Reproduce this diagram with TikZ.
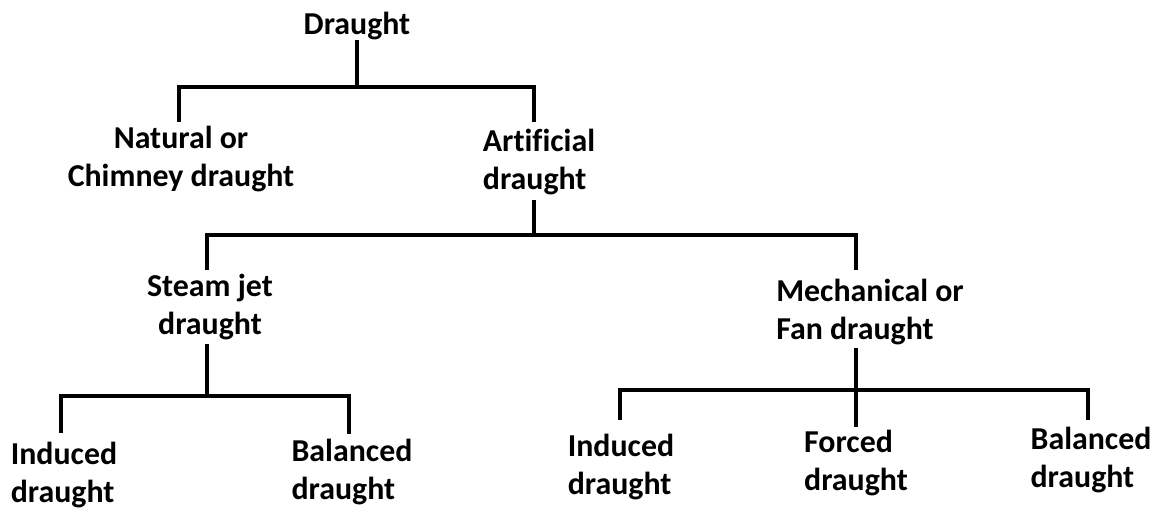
\documentclass[tikz,border=0pt]{standalone}
\usepackage{fontspec}
\setmainfont{Carlito}[Ligatures=CommonOff]
\begin{document}
\begin{tikzpicture}[x=1bp,y=-1bp,
  lbl/.style={inner sep=0pt,font=\bfseries\fontsize{32}{38}\selectfont,align=left},
  lblc/.style={lbl,align=center},
  conn/.style={line width=4bp,line join=miter,line cap=rect}]
\useasboundingbox[fill=white] (0,0) rectangle (1160,511);
% nodes
\node[lbl] (d) at (357,26) {Draught};
\node[lblc] (nat) at (181,159) {Natural or\\Chimney draught};
\node[lbl] (art) at (539,162) {Artificial\\draught};
\node[lblc] (stm) at (210,307) {Steam jet\\draught};
\node[lbl] (mec) at (870,312) {Mechanical or\\Fan draught};
\node[lbl] (ind1) at (64,475) {Induced\\draught};
\node[lbl] (bal1) at (352,472) {Balanced\\draught};
\node[lbl] (ind2) at (621,467) {Induced\\draught};
\node[lbl] (frc) at (856,463) {Forced\\draught};
\node[lbl] (bal2) at (1091,460) {Balanced\\draught};
% connector points
\coordinate (d-b) at (357,42);
\coordinate (j1) at (357,87);
\coordinate (j1l) at (179,87);
\coordinate (j1r) at (534,87);
\coordinate (nat-t) at (179,120);
\coordinate (art-t) at (534,120);
\coordinate (art-b) at (534,202);
\coordinate (j2) at (534,235);
\coordinate (j2l) at (207,235);
\coordinate (j2r) at (856,235);
\coordinate (stm-t) at (207,268);
\coordinate (mec-t) at (856,268);
\coordinate (stm-b) at (207,346);
\coordinate (j3) at (207,396);
\coordinate (j3l) at (61,396);
\coordinate (j3r) at (349,396);
\coordinate (ind1-t) at (61,431);
\coordinate (bal1-t) at (349,432);
\coordinate (mec-b) at (856,350);
\coordinate (j4) at (856,390);
\coordinate (j4l) at (620,390);
\coordinate (j4r) at (1088,390);
\coordinate (ind2-t) at (620,418);
\coordinate (frc-t) at (856,425);
\coordinate (bal2-t) at (1088,418);
% connectors
\draw[conn] (d-b) -- (j1);
\draw[conn] (nat-t) -- (j1l) -- (j1r) -- (art-t);
\draw[conn] (art-b) -- (j2);
\draw[conn] (stm-t) -- (j2l) -- (j2r) -- (mec-t);
\draw[conn] (stm-b) -- (j3);
\draw[conn] (ind1-t) -- (j3l) -- (j3r) -- (bal1-t);
\draw[conn] (mec-b) -- (j4);
\draw[conn] (j4) -- (frc-t);
\draw[conn] (ind2-t) -- (j4l) -- (j4r) -- (bal2-t);
\end{tikzpicture}
\end{document}
